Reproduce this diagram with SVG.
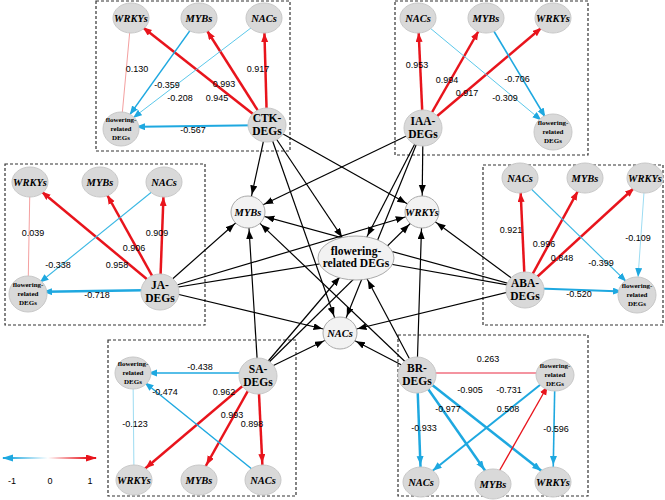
<svg xmlns="http://www.w3.org/2000/svg" width="665" height="500" viewBox="0 0 665 500">
<defs>
<marker id="mr" markerUnits="userSpaceOnUse" markerWidth="10" markerHeight="8" refX="24" refY="3.5" orient="auto"><path d="M0,0 L9,3.5 L0,7 z" fill="#e8141c"/></marker>
<marker id="mb" markerUnits="userSpaceOnUse" markerWidth="10" markerHeight="8" refX="24" refY="3.5" orient="auto"><path d="M0,0 L9,3.5 L0,7 z" fill="#1ea8e0"/></marker>
<marker id="mk" markerUnits="userSpaceOnUse" markerWidth="10" markerHeight="8" refX="27" refY="3.5" orient="auto"><path d="M0,0 L9,3.5 L0,7 z" fill="#000"/></marker>
<marker id="mk2" markerUnits="userSpaceOnUse" markerWidth="10" markerHeight="8" refX="34" refY="3.5" orient="auto"><path d="M0,0 L9,3.5 L0,7 z" fill="#000"/></marker>
<marker id="lr" markerUnits="userSpaceOnUse" markerWidth="12" markerHeight="8" refX="10" refY="3.5" orient="auto"><path d="M0,0 L11,3.5 L0,7 z" fill="#e8141c"/></marker>
<marker id="lb" markerUnits="userSpaceOnUse" markerWidth="12" markerHeight="8" refX="10" refY="3.5" orient="auto"><path d="M0,0 L11,3.5 L0,7 z" fill="#1ea8e0"/></marker>
<linearGradient id="g" gradientUnits="userSpaceOnUse" x1="8" y1="0" x2="88" y2="0"><stop offset="0" stop-color="#1ea8e0"/><stop offset="0.5" stop-color="#fff"/><stop offset="1" stop-color="#e8141c"/></linearGradient>
</defs>
<style>
.box{fill:none;stroke:#333;stroke-width:1.2;stroke-dasharray:3,2}
.n{fill:#d9d9d9;stroke:#c8c8c8}
.h{fill:#f2f2f2;stroke:#aaa}
.g{font-family:"Liberation Serif",serif;font-weight:bold;font-style:italic;font-size:10.5px;text-anchor:middle}
.t{font-family:"Liberation Serif",serif;font-weight:bold;font-size:11.5px;text-anchor:middle}
.f{font-family:"Liberation Serif",serif;font-weight:bold;font-size:7px;text-anchor:middle}
.l{font-family:"Liberation Sans",sans-serif;font-size:9px;text-anchor:middle}
.k{stroke:#000;stroke-width:1.2;fill:none}
.r{stroke:#e8141c;fill:none}
.b{stroke:#1ea8e0;fill:none}
</style>
<rect class="box" x="96" y="1" width="194" height="150"/>
<rect class="box" x="395" y="1" width="193" height="154"/>
<rect class="box" x="5" y="164" width="200" height="161"/>
<rect class="box" x="483" y="165" width="180" height="160"/>
<rect class="box" x="108" y="340" width="188" height="156"/>
<rect class="box" x="398" y="335" width="190" height="161"/>
<g id="connectors">
<g>
<line class="k" x1="267" y1="125" x2="248" y2="212" marker-end="url(#mk)"/>
<line class="k" x1="267" y1="125" x2="422" y2="212" marker-end="url(#mk)"/>
<line class="k" x1="267" y1="125" x2="356" y2="258" marker-end="url(#mk2)"/>
<line class="k" x1="267" y1="125" x2="340" y2="333" marker-end="url(#mk)"/>
<line class="k" x1="423" y1="128" x2="248" y2="212" marker-end="url(#mk)"/>
<line class="k" x1="423" y1="128" x2="422" y2="212" marker-end="url(#mk)"/>
<line class="k" x1="423" y1="128" x2="356" y2="258" marker-end="url(#mk2)"/>
<line class="k" x1="423" y1="128" x2="340" y2="333" marker-end="url(#mk)"/>
<line class="k" x1="160" y1="290" x2="248" y2="212" marker-end="url(#mk)"/>
<line class="k" x1="160" y1="290" x2="422" y2="212" marker-end="url(#mk)"/>
<line class="k" x1="160" y1="290" x2="356" y2="258" marker-end="url(#mk2)"/>
<line class="k" x1="160" y1="290" x2="340" y2="333" marker-end="url(#mk)"/>
<line class="k" x1="525" y1="288" x2="248" y2="212" marker-end="url(#mk)"/>
<line class="k" x1="525" y1="288" x2="422" y2="212" marker-end="url(#mk)"/>
<line class="k" x1="525" y1="288" x2="356" y2="258" marker-end="url(#mk2)"/>
<line class="k" x1="525" y1="288" x2="340" y2="333" marker-end="url(#mk)"/>
<line class="k" x1="258" y1="373" x2="248" y2="212" marker-end="url(#mk)"/>
<line class="k" x1="258" y1="373" x2="422" y2="212" marker-end="url(#mk)"/>
<line class="k" x1="258" y1="373" x2="356" y2="258" marker-end="url(#mk2)"/>
<line class="k" x1="258" y1="373" x2="340" y2="333" marker-end="url(#mk)"/>
<line class="k" x1="417" y1="373" x2="248" y2="212" marker-end="url(#mk)"/>
<line class="k" x1="417" y1="373" x2="422" y2="212" marker-end="url(#mk)"/>
<line class="k" x1="417" y1="373" x2="356" y2="258" marker-end="url(#mk2)"/>
<line class="k" x1="417" y1="373" x2="340" y2="333" marker-end="url(#mk)"/>
</g>
<line class="r" stroke-width="2.5" x1="267" y1="125" x2="131" y2="18" marker-end="url(#mr)"/>
<line class="r" stroke-width="2.5" x1="267" y1="125" x2="199" y2="18" marker-end="url(#mr)"/>
<line class="r" stroke-width="2.5" x1="267" y1="125" x2="264" y2="18" marker-end="url(#mr)"/>
<line class="b" stroke-width="2" x1="267" y1="125" x2="121" y2="127" marker-end="url(#mb)"/>
<line stroke="#f4a0a0" stroke-width="1" x1="121" y1="127" x2="131" y2="18"/>
<line class="b" stroke-width="1.3" x1="199" y1="18" x2="121" y2="127" marker-end="url(#mb)"/>
<line stroke="#5cc8ea" stroke-width="1" x1="264" y1="18" x2="121" y2="127" marker-end="url(#mb)"/>
<line class="r" stroke-width="2.5" x1="423" y1="128" x2="418" y2="18" marker-end="url(#mr)"/>
<line class="r" stroke-width="2.5" x1="423" y1="128" x2="486" y2="18" marker-end="url(#mr)"/>
<line class="r" stroke-width="2.5" x1="423" y1="128" x2="553" y2="18" marker-end="url(#mr)"/>
<line class="b" stroke-width="1.6" x1="486" y1="18" x2="553" y2="130" marker-end="url(#mb)"/>
<line stroke="#5cc8ea" stroke-width="1" x1="418" y1="18" x2="553" y2="130" marker-end="url(#mb)"/>
<line class="r" stroke-width="2.5" x1="160" y1="290" x2="30" y2="182" marker-end="url(#mr)"/>
<line class="r" stroke-width="2.5" x1="160" y1="290" x2="100" y2="182" marker-end="url(#mr)"/>
<line class="r" stroke-width="2.5" x1="160" y1="290" x2="164" y2="182" marker-end="url(#mr)"/>
<line class="b" stroke-width="2.5" x1="160" y1="290" x2="28" y2="292" marker-end="url(#mb)"/>
<line stroke="#f4a0a0" stroke-width="1" x1="28" y1="292" x2="30" y2="182"/>
<line stroke="#3bb8e4" stroke-width="1.1" x1="164" y1="182" x2="28" y2="292" marker-end="url(#mb)"/>
<line class="r" stroke-width="2.5" x1="525" y1="288" x2="520" y2="178" marker-end="url(#mr)"/>
<line class="r" stroke-width="2.5" x1="525" y1="288" x2="585" y2="178" marker-end="url(#mr)"/>
<line class="r" stroke-width="2.5" x1="525" y1="288" x2="645" y2="178" marker-end="url(#mr)"/>
<line class="b" stroke-width="1.8" x1="525" y1="288" x2="637" y2="292" marker-end="url(#mb)"/>
<line stroke="#3bb8e4" stroke-width="1.1" x1="520" y1="178" x2="637" y2="292" marker-end="url(#mb)"/>
<line stroke="#9ddcf2" stroke-width="1" x1="645" y1="178" x2="637" y2="292" marker-end="url(#mb)"/>
<line class="r" stroke-width="2.5" x1="258" y1="373" x2="134" y2="478" marker-end="url(#mr)"/>
<line class="r" stroke-width="2.5" x1="258" y1="373" x2="199" y2="478" marker-end="url(#mr)"/>
<line class="r" stroke-width="2.5" x1="258" y1="373" x2="263" y2="478" marker-end="url(#mr)"/>
<line class="b" stroke-width="1.5" x1="258" y1="373" x2="133" y2="373" marker-end="url(#mb)"/>
<line class="b" stroke-width="1.4" x1="263" y1="478" x2="133" y2="373" marker-end="url(#mb)"/>
<line stroke="#9ddcf2" stroke-width="1" x1="133" y1="373" x2="134" y2="478"/>
<line stroke="#f07080" stroke-width="1.3" x1="417" y1="373" x2="555" y2="373"/>
<line class="b" stroke-width="2.5" x1="417" y1="373" x2="421" y2="480" marker-end="url(#mb)"/>
<line class="b" stroke-width="2.5" x1="417" y1="373" x2="493" y2="482" marker-end="url(#mb)"/>
<line class="b" stroke-width="2.5" x1="417" y1="373" x2="553" y2="480" marker-end="url(#mb)"/>
<line class="b" stroke-width="2" x1="555" y1="373" x2="421" y2="480" marker-end="url(#mb)"/>
<line class="r" stroke-width="1.3" x1="493" y1="482" x2="555" y2="373" marker-end="url(#mr)"/>
<line class="b" stroke-width="1.6" x1="555" y1="373" x2="553" y2="480" marker-end="url(#mb)"/>
</g>
<g id="labels" class="l">
<text x="137" y="72">0.130</text><text x="167" y="88">-0.359</text><text x="180" y="101">-0.208</text><text x="224" y="87">0.993</text><text x="217" y="101">0.945</text><text x="258" y="72">0.917</text><text x="193" y="133">-0.567</text>
<text x="417" y="68">0.953</text><text x="447" y="83">0.994</text><text x="467" y="96">0.917</text><text x="517" y="82">-0.706</text><text x="505" y="101">-0.309</text>
<text x="33" y="236">0.039</text><text x="58" y="268">-0.338</text><text x="134" y="251">0.906</text><text x="117" y="268">0.958</text><text x="157" y="236">0.909</text><text x="97" y="298">-0.718</text>
<text x="511" y="233">0.921</text><text x="544" y="247">0.996</text><text x="562" y="261">0.848</text><text x="601" y="266">-0.399</text><text x="638" y="241">-0.109</text><text x="579" y="297">-0.520</text>
<text x="200" y="370">-0.438</text><text x="165" y="395">-0.474</text><text x="224" y="395">0.962</text><text x="232" y="418">0.993</text><text x="252" y="427">0.898</text><text x="135" y="427">-0.123</text>
<text x="488" y="362">0.263</text><text x="470" y="393">-0.905</text><text x="509" y="393">-0.731</text><text x="448" y="412">-0.977</text><text x="508" y="412">0.508</text><text x="424" y="431">-0.933</text><text x="556" y="432">-0.596</text>
</g>
<g id="ctk"><ellipse class="n" cx="267" cy="125" rx="19" ry="17"/><text class="t" x="267" y="122">CTK-</text><text class="t" x="267" y="135">DEGs</text></g>
<g id="ctk-wrky"><ellipse class="n" cx="131" cy="18" rx="18" ry="15"/><text class="g" x="131" y="22">WRKYs</text></g>
<g id="ctk-myb"><ellipse class="n" cx="199" cy="18" rx="18" ry="15"/><text class="g" x="199" y="22">MYBs</text></g>
<g id="ctk-nac"><ellipse class="n" cx="264" cy="18" rx="18" ry="15"/><text class="g" x="264" y="22">NACs</text></g>
<g id="ctk-fl"><ellipse class="n" cx="121" cy="129" rx="18" ry="17"/><text class="f" x="121" y="122">flowering-</text><text class="f" x="121" y="131">related</text><text class="f" x="121" y="140">DEGs</text></g>
<g id="iaa"><ellipse class="n" cx="423" cy="128" rx="19" ry="18"/><text class="t" x="423" y="125">IAA-</text><text class="t" x="423" y="138">DEGs</text></g>
<g id="iaa-nac"><ellipse class="n" cx="418" cy="18" rx="18" ry="15"/><text class="g" x="418" y="22">NACs</text></g>
<g id="iaa-myb"><ellipse class="n" cx="486" cy="18" rx="18" ry="15"/><text class="g" x="486" y="22">MYBs</text></g>
<g id="iaa-wrky"><ellipse class="n" cx="553" cy="18" rx="18" ry="15"/><text class="g" x="553" y="22">WRKYs</text></g>
<g id="iaa-fl"><ellipse class="n" cx="553" cy="132" rx="19" ry="18"/><text class="f" x="553" y="125">flowering-</text><text class="f" x="553" y="134">related</text><text class="f" x="553" y="143">DEGs</text></g>
<g id="ja"><ellipse class="n" cx="160" cy="292" rx="19" ry="18"/><text class="t" x="160" y="289">JA-</text><text class="t" x="160" y="302">DEGs</text></g>
<g id="ja-wrky"><ellipse class="n" cx="30" cy="182" rx="18" ry="15"/><text class="g" x="30" y="186">WRKYs</text></g>
<g id="ja-myb"><ellipse class="n" cx="100" cy="182" rx="18" ry="15"/><text class="g" x="100" y="186">MYBs</text></g>
<g id="ja-nac"><ellipse class="n" cx="164" cy="182" rx="18" ry="15"/><text class="g" x="164" y="186">NACs</text></g>
<g id="ja-fl"><ellipse class="n" cx="28" cy="294" rx="19" ry="18"/><text class="f" x="28" y="287">flowering-</text><text class="f" x="28" y="296">related</text><text class="f" x="28" y="305">DEGs</text></g>
<g id="aba"><ellipse class="n" cx="525" cy="290" rx="19" ry="18"/><text class="t" x="525" y="287">ABA-</text><text class="t" x="525" y="300">DEGs</text></g>
<g id="aba-nac"><ellipse class="n" cx="520" cy="178" rx="18" ry="15"/><text class="g" x="520" y="182">NACs</text></g>
<g id="aba-myb"><ellipse class="n" cx="585" cy="178" rx="18" ry="15"/><text class="g" x="585" y="182">MYBs</text></g>
<g id="aba-wrky"><ellipse class="n" cx="645" cy="178" rx="18" ry="15"/><text class="g" x="645" y="182">WRKYs</text></g>
<g id="aba-fl"><ellipse class="n" cx="637" cy="295" rx="19" ry="18"/><text class="f" x="637" y="288">flowering-</text><text class="f" x="637" y="297">related</text><text class="f" x="637" y="306">DEGs</text></g>
<g id="sa"><ellipse class="n" cx="258" cy="376" rx="19" ry="18"/><text class="t" x="258" y="373">SA-</text><text class="t" x="258" y="386">DEGs</text></g>
<g id="sa-fl"><ellipse class="n" cx="133" cy="373" rx="18" ry="16"/><text class="f" x="133" y="366">flowering-</text><text class="f" x="133" y="375">related</text><text class="f" x="133" y="384">DEGs</text></g>
<g id="sa-wrky"><ellipse class="n" cx="134" cy="480" rx="18" ry="15"/><text class="g" x="134" y="484">WRKYs</text></g>
<g id="sa-myb"><ellipse class="n" cx="199" cy="480" rx="18" ry="15"/><text class="g" x="199" y="484">MYBs</text></g>
<g id="sa-nac"><ellipse class="n" cx="263" cy="480" rx="18" ry="15"/><text class="g" x="263" y="484">NACs</text></g>
<g id="br"><ellipse class="n" cx="417" cy="375" rx="19" ry="18"/><text class="t" x="417" y="372">BR-</text><text class="t" x="417" y="385">DEGs</text></g>
<g id="br-fl"><ellipse class="n" cx="555" cy="375" rx="19" ry="16"/><text class="f" x="555" y="368">flowering-</text><text class="f" x="555" y="377">related</text><text class="f" x="555" y="386">DEGs</text></g>
<g id="br-nac"><ellipse class="n" cx="421" cy="482" rx="18" ry="15"/><text class="g" x="421" y="486">NACs</text></g>
<g id="br-myb"><ellipse class="n" cx="493" cy="484" rx="18" ry="15"/><text class="g" x="493" y="488">MYBs</text></g>
<g id="br-wrky"><ellipse class="n" cx="553" cy="482" rx="18" ry="15"/><text class="g" x="553" y="486">WRKYs</text></g>
<g id="hub-myb"><ellipse class="h" cx="248" cy="212" rx="17" ry="16"/><text class="g" x="248" y="216">MYBs</text></g>
<g id="hub-wrky"><ellipse class="h" cx="422" cy="212" rx="17" ry="16"/><text class="g" x="422" y="216">WRKYs</text></g>
<g id="hub-fl"><ellipse class="h" cx="356" cy="258" rx="38" ry="22"/><text class="t" x="356" y="255" font-size="9.5">flowering-</text><text class="t" x="356" y="267" font-size="9.5">related DEGs</text></g>
<g id="hub-nac"><ellipse class="h" cx="340" cy="333" rx="17" ry="16"/><text class="g" x="340" y="337">NACs</text></g>
<g id="legend">
<line x1="8" y1="458" x2="88" y2="458" stroke="url(#g)" stroke-width="2"/>
<line x1="9" y1="458" x2="3" y2="458" stroke="#1ea8e0" stroke-width="2" marker-end="url(#lb)"/>
<line x1="87" y1="458" x2="96" y2="458" stroke="#e8141c" stroke-width="2" marker-end="url(#lr)"/>
<text class="l" x="12" y="484" font-size="8">-1</text><text class="l" x="50" y="484" font-size="8">0</text><text class="l" x="90" y="484" font-size="8">1</text>
</g>
</svg>
